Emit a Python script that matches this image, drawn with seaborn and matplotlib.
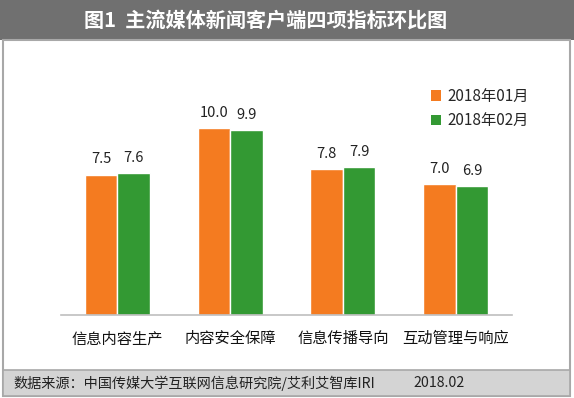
import matplotlib
matplotlib.use("Agg")
import matplotlib.pyplot as plt
import seaborn as sns
import pandas as pd
from matplotlib.patches import Rectangle, Patch

categories = ["信息内容生产", "内容安全保障", "信息传播导向", "互动管理与响应"]
months = ["2018年01月", "2018年02月"]
values_jan = [7.5, 10.0, 7.8, 7.0]
values_feb = [7.6, 9.9, 7.9, 6.9]
title = "图1  主流媒体新闻客户端四项指标环比图"
source = "数据来源：中国传媒大学互联网信息研究院/艾利艾智库IRI"
date_text = "2018.02"

orange = "#F47B20"
green = "#339933"

df = pd.DataFrame({
    "cat": categories * 2,
    "month": [months[0]] * 4 + [months[1]] * 4,
    "val": values_jan + values_feb,
})

sns.set_theme(style="white")
plt.rcParams["font.family"] = ["Noto Sans CJK SC", "DejaVu Sans"]

W, H = 574, 398
fig = plt.figure(figsize=(W / 100, H / 100), dpi=100)
fig.patch.set_facecolor("white")

# header, frame and footer
fig.patches.append(Rectangle((0, 1 - 40 / H), 1, 40 / H, transform=fig.transFigure,
                             facecolor="#707070", edgecolor="none", zorder=0))
fig.patches.append(Rectangle((3 / W, 2 / H), (570 - 3) / W, (358 - 2) / H, transform=fig.transFigure,
                             facecolor="none", edgecolor="#a8a8a8", lw=1.5, zorder=1))
fig.patches.append(Rectangle((3 / W, 2 / H), (570 - 3) / W, 26 / H, transform=fig.transFigure,
                             facecolor="#d4d4d4", edgecolor="#a8a8a8", lw=1.2, zorder=1))

left, right = 61 / W, 512 / W
base = 315
ymax = 12.0
top_px = base - ymax * 18.7
ax = fig.add_axes([left, (H - base) / H, right - left, (base - top_px) / H])

sns.barplot(data=df, x="cat", y="val", hue="month", palette=[orange, green],
            width=0.575, saturation=1, ax=ax, legend=False, errorbar=None)
ax.set_ylim(0, ymax)
ax.set_xlim(-0.5, 3.5)
for c in ax.containers:
    ax.bar_label(c, fmt="%.1f", padding=6, fontsize=10.5, color="#222222")

ax.set_xlabel("")
ax.set_ylabel("")
ax.set_yticks([])
for s in ["left", "right", "top"]:
    ax.spines[s].set_visible(False)
ax.spines["bottom"].set_color("#bfbfbf")
ax.spines["bottom"].set_linewidth(1.2)
ax.tick_params(axis="x", length=0, pad=11, labelsize=11, labelcolor="#111111")
ax.set_facecolor("none")

handles = [Patch(facecolor=orange, edgecolor="none"), Patch(facecolor=green, edgecolor="none")]
fig.legend(handles, months, loc="upper left", bbox_to_anchor=(417 / W, 1 - 74 / H),
           bbox_transform=fig.transFigure, frameon=False, fontsize=11,
           handlelength=0.7, handleheight=0.7, handletextpad=0.4, labelspacing=0.5)

fig.text(266 / W, 1 - 20 / H, title, color="white", fontsize=14.5, fontweight="bold",
         ha="center", va="center")
fig.text(13 / W, 1 - 383 / H, source, color="#222222", fontsize=10.2, ha="left", va="center")
fig.text(413 / W, 1 - 383 / H, date_text, color="#222222", fontsize=10.2, ha="left", va="center")

fig.savefig("out.png", dpi=100)
